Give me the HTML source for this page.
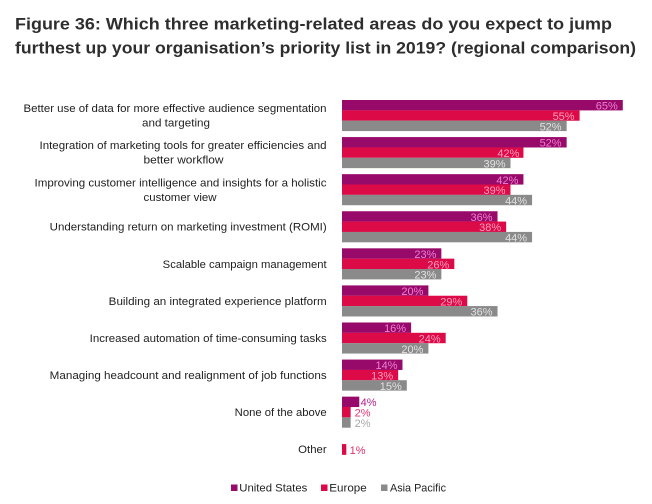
<!DOCTYPE html>
<html>
<head>
<meta charset="utf-8">
<style>
html,body{margin:0;padding:0;background:#fff;}
svg{display:block;}
.t{font-family:"Liberation Sans",sans-serif;font-weight:bold;font-size:17px;fill:#2e2e2e;}
.c{font-family:"Liberation Sans",sans-serif;font-size:11px;fill:#1e1e1e;}
.v{font-family:"Liberation Sans",sans-serif;font-size:11px;text-anchor:end;}
.vp{fill:#f27fd2;}
.vr{fill:#ff9dbe;}
.vg{fill:#e2e2e2;}
.lg{font-family:"Liberation Sans",sans-serif;font-size:11px;fill:#222;}
</style>
</head>
<body>
<svg width="652" height="504" viewBox="0 0 652 504" xmlns="http://www.w3.org/2000/svg">
<rect width="652" height="504" fill="#fff"/>
<text class="t" x="15" y="29.5" textLength="597" lengthAdjust="spacingAndGlyphs">Figure 36: Which three marketing-related areas do you expect to jump</text>
<text class="t" x="15" y="53.3" textLength="621" lengthAdjust="spacingAndGlyphs">furthest up your organisation’s priority list in 2019? (regional comparison)</text>

<!-- category labels -->
<text class="c" x="175" y="112" text-anchor="middle" textLength="303" lengthAdjust="spacingAndGlyphs">Better use of data for more effective audience segmentation</text>
<text class="c" x="176" y="126.5" text-anchor="middle" textLength="68" lengthAdjust="spacingAndGlyphs">and targeting</text>
<text class="c" x="183" y="149" text-anchor="middle" textLength="287" lengthAdjust="spacingAndGlyphs">Integration of marketing tools for greater efficiencies and</text>
<text class="c" x="183.5" y="163.5" text-anchor="middle" textLength="80" lengthAdjust="spacingAndGlyphs">better workflow</text>
<text class="c" x="180.5" y="186.5" text-anchor="middle" textLength="292" lengthAdjust="spacingAndGlyphs">Improving customer intelligence and insights for a holistic</text>
<text class="c" x="180" y="201" text-anchor="middle" textLength="73" lengthAdjust="spacingAndGlyphs">customer view</text>
<text class="c" x="326.7" y="230.7" text-anchor="end" textLength="277" lengthAdjust="spacingAndGlyphs">Understanding return on marketing investment (ROMI)</text>
<text class="c" x="326.7" y="267.8" text-anchor="end" textLength="164" lengthAdjust="spacingAndGlyphs">Scalable campaign management</text>
<text class="c" x="326.7" y="304.9" text-anchor="end" textLength="218" lengthAdjust="spacingAndGlyphs">Building an integrated experience platform</text>
<text class="c" x="326.7" y="342" text-anchor="end" textLength="237" lengthAdjust="spacingAndGlyphs">Increased automation of time-consuming tasks</text>
<text class="c" x="326.7" y="379" text-anchor="end" textLength="277" lengthAdjust="spacingAndGlyphs">Managing headcount and realignment of job functions</text>
<text class="c" x="326.7" y="416" text-anchor="end" textLength="92" lengthAdjust="spacingAndGlyphs">None of the above</text>
<text class="c" x="326.7" y="453" text-anchor="end" textLength="28.5" lengthAdjust="spacingAndGlyphs">Other</text>

<!-- bars -->
<g>
<rect x="342" y="100" width="280.8" height="10.4" fill="#970a6a"/>
<rect x="342" y="110.33" width="237.6" height="10.4" fill="#dc0a47"/>
<rect x="342" y="120.67" width="224.64" height="10.4" fill="#8a8a8a"/>

<rect x="342" y="137.08" width="224.64" height="10.4" fill="#970a6a"/>
<rect x="342" y="147.41" width="181.44" height="10.4" fill="#dc0a47"/>
<rect x="342" y="157.75" width="168.48" height="10.4" fill="#8a8a8a"/>

<rect x="342" y="174.16" width="181.44" height="10.4" fill="#970a6a"/>
<rect x="342" y="184.49" width="168.48" height="10.4" fill="#dc0a47"/>
<rect x="342" y="194.83" width="190.08" height="10.4" fill="#8a8a8a"/>

<rect x="342" y="211.24" width="155.52" height="10.4" fill="#970a6a"/>
<rect x="342" y="221.57" width="164.16" height="10.4" fill="#dc0a47"/>
<rect x="342" y="231.91" width="190.08" height="10.4" fill="#8a8a8a"/>

<rect x="342" y="248.32" width="99.36" height="10.4" fill="#970a6a"/>
<rect x="342" y="258.65" width="112.32" height="10.4" fill="#dc0a47"/>
<rect x="342" y="268.99" width="99.36" height="10.4" fill="#8a8a8a"/>

<rect x="342" y="285.4" width="86.4" height="10.4" fill="#970a6a"/>
<rect x="342" y="295.73" width="125.28" height="10.4" fill="#dc0a47"/>
<rect x="342" y="306.07" width="155.52" height="10.4" fill="#8a8a8a"/>

<rect x="342" y="322.48" width="69.12" height="10.4" fill="#970a6a"/>
<rect x="342" y="332.81" width="103.68" height="10.4" fill="#dc0a47"/>
<rect x="342" y="343.15" width="86.4" height="10.4" fill="#8a8a8a"/>

<rect x="342" y="359.56" width="60.48" height="10.4" fill="#970a6a"/>
<rect x="342" y="369.89" width="56.16" height="10.4" fill="#dc0a47"/>
<rect x="342" y="380.23" width="64.8" height="10.4" fill="#8a8a8a"/>

<rect x="342" y="396.64" width="17.28" height="10.4" fill="#970a6a"/>
<rect x="342" y="406.97" width="8.64" height="10.4" fill="#dc0a47"/>
<rect x="342" y="417.31" width="8.64" height="10.4" fill="#8a8a8a"/>

<rect x="342" y="444.05" width="4.32" height="10.8" fill="#dc0a47"/>
</g>

<!-- value labels -->
<g>
<text class="v vp" x="617.8" y="109.6">65%</text>
<text class="v vr" x="574.6" y="119.9">55%</text>
<text class="v vg" x="561.6" y="130.3">52%</text>

<text class="v vp" x="561.6" y="146.7">52%</text>
<text class="v vr" x="519.4" y="157">42%</text>
<text class="v vg" x="505.5" y="167.3">39%</text>

<text class="v vp" x="518.4" y="183.8">42%</text>
<text class="v vr" x="505.5" y="194.1">39%</text>
<text class="v vg" x="527.1" y="204.4">44%</text>

<text class="v vp" x="492.5" y="220.8">36%</text>
<text class="v vr" x="501.2" y="231.2">38%</text>
<text class="v vg" x="527.1" y="241.5">44%</text>

<text class="v vp" x="436.4" y="257.9">23%</text>
<text class="v vr" x="449.3" y="268.3">26%</text>
<text class="v vg" x="436.4" y="278.6">23%</text>

<text class="v vp" x="423.4" y="295">20%</text>
<text class="v vr" x="462.3" y="305.3">29%</text>
<text class="v vg" x="492.5" y="315.7">36%</text>

<text class="v vp" x="406.1" y="332.1">16%</text>
<text class="v vr" x="440.7" y="342.4">24%</text>
<text class="v vg" x="423.4" y="352.8">20%</text>

<text class="v vp" x="397.5" y="369.2">14%</text>
<text class="v vr" x="393.2" y="379.5">13%</text>
<text class="v vg" x="401.8" y="389.8">15%</text>

<text class="v" x="376.5" y="406.2" fill="#b4208e">4%</text>
<text class="v" x="370.5" y="416.5" fill="#e8336e">2%</text>
<text class="v" x="370.5" y="426.8" fill="#a8a8a8">2%</text>

<text class="v" x="365.5" y="453.8" fill="#e0306a">1%</text>
</g>

<!-- legend -->
<rect x="231" y="484.5" width="6.5" height="6.5" fill="#970a6a"/>
<text class="lg" x="239.3" y="491.5" textLength="68" lengthAdjust="spacingAndGlyphs">United States</text>
<rect x="321" y="484.5" width="6.5" height="6.5" fill="#dc0a47"/>
<text class="lg" x="329.3" y="491.5" textLength="37.4" lengthAdjust="spacingAndGlyphs">Europe</text>
<rect x="381" y="484.5" width="6.5" height="6.5" fill="#8a8a8a"/>
<text class="lg" x="390" y="491.5" textLength="56" lengthAdjust="spacingAndGlyphs">Asia Pacific</text>
</svg>
</body>
</html>
